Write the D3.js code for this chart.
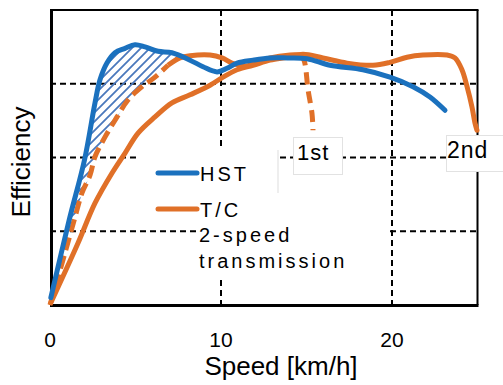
<!DOCTYPE html>
<html>
<head>
<meta charset="utf-8">
<script src="https://cdn.jsdelivr.net/npm/d3@7"></script>
<style>
  body { margin: 0; background: #fff; }
  text { font-family: Arial, "Liberation Sans", sans-serif; fill: #000; }
</style>
</head>
<body>
<svg width="503" height="385"></svg>
<script>
// speed in km/h, efficiency in grid units (0..4, no labels on the original)
var xTicks = [0, 10, 20];
var yGrid = [1, 2, 3];

var hstSpeed = [0.05, 1.12, 2.02, 2.63, 2.92, 3.33, 3.80, 4.39, 4.97, 5.56, 6.32, 7.13, 8.19, 8.95, 9.77, 10.35, 10.94, 11.87, 12.87, 13.86, 15.03, 16.37, 18.30, 19.88, 21.23, 22.22, 23.10];
var hstEff   = [0.10, 1.15, 1.97, 2.74, 3.05, 3.28, 3.42, 3.48, 3.53, 3.50, 3.44, 3.42, 3.32, 3.23, 3.16, 3.21, 3.28, 3.32, 3.35, 3.35, 3.34, 3.25, 3.19, 3.09, 2.96, 2.82, 2.64];

var tcSpeed = [0.05, 1.64, 2.63, 3.63, 4.39, 5.15, 6.14, 7.13, 8.19, 9.36, 10.12, 10.94, 11.87, 12.87, 13.86, 14.80, 15.96, 17.37, 18.89, 19.88, 20.88, 21.81, 23.22, 23.68, 24.09, 24.39, 24.68, 24.85, 24.97];
var tcEff   = [0.03, 0.84, 1.38, 1.79, 2.06, 2.33, 2.55, 2.74, 2.85, 2.98, 3.09, 3.19, 3.25, 3.32, 3.36, 3.40, 3.35, 3.28, 3.25, 3.29, 3.36, 3.39, 3.39, 3.35, 3.19, 2.96, 2.68, 2.47, 2.37];

// 2-speed transmission, 1st gear
var gear1Speed = [0.0, 0.88, 1.46, 1.87, 2.34, 2.63, 3.22, 3.92, 4.56, 5.38, 6.14, 6.90, 7.60, 8.19, 9.36, 10.06, 10.64, 11.40, 11.99, 12.87, 14.04, 14.62, 14.85, 15.09, 15.32, 15.38];
var gear1Eff   = [0.0, 0.71, 1.19, 1.52, 1.76, 2.01, 2.28, 2.55, 2.78, 2.96, 3.09, 3.25, 3.35, 3.38, 3.39, 3.35, 3.28, 3.24, 3.28, 3.35, 3.39, 3.39, 3.32, 2.92, 2.60, 2.37];

var blue = "#1b71be", orange = "#e07028";

var svg = d3.select("svg");

var x = d3.scaleLinear().domain([0, 25]).range([50, 477.5]);
var y = d3.scaleLinear().domain([0, 4]).range([305, 10]);

function zip(a, b) { return a.map(function(v, i) { return [v, b[i]]; }); }
var hst = zip(hstSpeed, hstEff),
    tc = zip(tcSpeed, tcEff),
    gear1 = zip(gear1Speed, gear1Eff);

var line = d3.line()
    .x(function(d) { return x(d[0]); })
    .y(function(d) { return y(d[1]); })
    .curve(d3.curveCatmullRom);

// hatch pattern
var defs = svg.append("defs");
defs.append("pattern")
    .attr("id", "hatch")
    .attr("patternUnits", "userSpaceOnUse")
    .attr("width", 9).attr("height", 9)
  .append("path")
    .attr("d", "M0,9L9,0M-2,2L2,-2M7,11L11,7")
    .attr("stroke", "#4a78bc")
    .attr("stroke-width", 1.8);

// dashed grid
svg.selectAll(".vgrid")
  .data(xTicks.filter(function(d) { return d > 0; }))
  .enter().append("line")
    .attr("x1", function(d) { return x(d); }).attr("x2", function(d) { return x(d); })
    .attr("y1", y(4)).attr("y2", y(0))
    .attr("stroke", "#000").attr("stroke-width", 2).attr("stroke-dasharray", "6,4");

svg.selectAll(".hgrid")
  .data(yGrid)
  .enter().append("line")
    .attr("x1", x(0)).attr("x2", x(25))
    .attr("y1", function(d) { return y(d); }).attr("y2", function(d) { return y(d); })
    .attr("stroke", "#000").attr("stroke-width", 2).attr("stroke-dasharray", "6,4");

// frame
svg.append("line").attr("x1", x(0)).attr("x2", x(25) + 1).attr("y1", y(4)).attr("y2", y(4))
    .attr("stroke", "#000").attr("stroke-width", 2);
svg.append("line").attr("x1", x(25)).attr("x2", x(25)).attr("y1", y(4)).attr("y2", y(0))
    .attr("stroke", "#000").attr("stroke-width", 2);
svg.append("line").attr("x1", x(0) + 1.5).attr("x2", x(0) + 1.5).attr("y1", y(4) - 1).attr("y2", y(0) + 1.5)
    .attr("stroke", "#000").attr("stroke-width", 3);
svg.append("line").attr("x1", x(0)).attr("x2", x(25) + 1).attr("y1", y(0) + 0.5).attr("y2", y(0) + 0.5)
    .attr("stroke", "#000").attr("stroke-width", 3);

// white label boxes (hide grid behind legend and gear labels)
svg.append("rect").attr("x", 138).attr("y", 150).attr("width", 140).attr("height", 72).attr("fill", "#fff");
svg.append("rect").attr("x", 197).attr("y", 222).attr("width", 190).attr("height", 56).attr("fill", "#fff");
svg.append("line").attr("x1", 278).attr("x2", 278).attr("y1", 150).attr("y2", 193)
    .attr("stroke", "#ddd").attr("stroke-width", 1);
svg.append("rect").attr("x", 293.5).attr("y", 137.5).attr("width", 49).attr("height", 37)
    .attr("fill", "#fff").attr("stroke", "#e2e2e2");
svg.append("rect").attr("x", 446.5).attr("y", 135.5).attr("width", 60).attr("height", 36)
    .attr("fill", "#fff").attr("stroke", "#e2e2e2");

// hatched gain area between HST and 1st gear
var upper = hst.filter(function(d) { return d[0] >= 1.1 && d[0] <= 7.2; });
var lower = gear1.filter(function(d) { return d[0] >= 1.4 && d[0] <= 7.7; }).reverse();
svg.append("path")
    .attr("d", d3.line().x(function(d) { return x(d[0]); }).y(function(d) { return y(d[1]); })(upper.concat(lower)) + "Z")
    .attr("fill", "url(#hatch)");

// curves
svg.append("path").attr("d", line(tc))
    .attr("fill", "none").attr("stroke", orange).attr("stroke-width", 5).attr("stroke-linecap", "round");

var rise = gear1.slice(0, 12), top1 = gear1.slice(11, 22), drop = gear1.slice(21);
svg.append("path").attr("d", line(rise))
    .attr("fill", "none").attr("stroke", orange).attr("stroke-width", 5).attr("stroke-dasharray", "13,6");
svg.append("path").attr("d", line(top1))
    .attr("fill", "none").attr("stroke", orange).attr("stroke-width", 5);
svg.append("path").attr("d", line(drop))
    .attr("fill", "none").attr("stroke", orange).attr("stroke-width", 5).attr("stroke-dasharray", "12,7");

svg.append("path").attr("d", line(hst))
    .attr("fill", "none").attr("stroke", blue).attr("stroke-width", 5).attr("stroke-linecap", "round");

// legend
var legend = [
  { name: "HST", color: blue, y: 173 },
  { name: "T/C", color: orange, y: 209 }
];
legend.forEach(function(l) {
  svg.append("line").attr("x1", 158).attr("x2", 197).attr("y1", l.y).attr("y2", l.y)
      .attr("stroke", l.color).attr("stroke-width", 5).attr("stroke-linecap", "round");
  svg.append("text").attr("x", 200).attr("y", l.y + 8)
      .style("font-size", "20px").style("letter-spacing", "3px").text(l.name);
});
svg.append("text").attr("x", 199).attr("y", 242)
    .style("font-size", "20px").style("letter-spacing", "3px").text("2-speed");
svg.append("text").attr("x", 199).attr("y", 268)
    .style("font-size", "20px").style("letter-spacing", "3px").text("transmission");

svg.append("text").attr("x", 297).attr("y", 160).style("font-size", "22px").style("letter-spacing", "1px").text("1st");
svg.append("text").attr("x", 447).attr("y", 158).style("font-size", "23px").style("letter-spacing", "1px").text("2nd");

// x tick labels and axis titles
svg.selectAll(".xlab")
  .data(xTicks)
  .enter().append("text")
    .attr("x", function(d) { return x(d); })
    .attr("y", 347)
    .attr("text-anchor", "middle")
    .style("font-size", "21px")
    .text(function(d) { return d; });

svg.append("text").attr("x", 281).attr("y", 375).attr("text-anchor", "middle")
    .style("font-size", "26px").text("Speed [km/h]");
svg.append("text").attr("transform", "translate(30,162) rotate(-90)").attr("text-anchor", "middle")
    .style("font-size", "26px").text("Efficiency");
</script>
</body>
</html>
